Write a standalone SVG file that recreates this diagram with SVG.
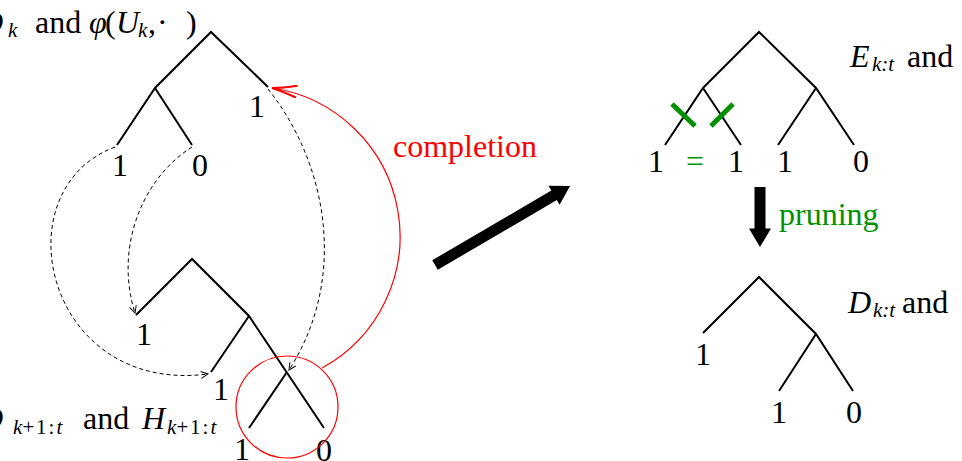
<svg xmlns="http://www.w3.org/2000/svg" width="962" height="461" viewBox="0 0 962 461">
<style>
.t{font-family:"Liberation Serif","Times New Roman",serif;font-size:32px;fill:#000}
.s{font-size:21px}
.i{font-style:italic}
.tree{fill:none;stroke:#000;stroke-width:2}
.dash{fill:none;stroke:#000;stroke-width:1;stroke-dasharray:4 3}
.red{fill:none;stroke:#ff0000;stroke-width:1.2}
.big{stroke:#000;stroke-width:11}
.cross{stroke:#009000;stroke-width:5}
.g{fill:#009000}
.r{fill:#ff0000}
</style>
<defs>
<marker id="chev" markerUnits="userSpaceOnUse" markerWidth="12" markerHeight="12" orient="auto" overflow="visible">
<path d="M-7,-3.5 L0,0 L-7,3.5" fill="none" stroke="#000" stroke-width="1"/>
</marker>
<marker id="redhead" markerUnits="userSpaceOnUse" markerWidth="30" markerHeight="16" orient="auto" overflow="visible">
<path d="M-25,-6 Q-10,-1.5 0,0 Q-10,1.5 -25,6" fill="none" stroke="#ff0000" stroke-width="2.2"/>
</marker>
<marker id="thick" markerUnits="userSpaceOnUse" markerWidth="20" markerHeight="24" orient="auto" overflow="visible">
<path d="M-0.5,-11 L18,0 L-0.5,11 Z" fill="#000"/>
</marker>
</defs>

<g id="tree-Dk">
<polyline class="tree" points="268,87 211,32 155,88 117,145"/>
<line class="tree" x1="155" y1="88" x2="192" y2="145"/>
<text class="t" x="120" y="176" text-anchor="middle">1</text>
<text class="t" x="200" y="176" text-anchor="middle">0</text>
<text class="t" x="257" y="117" text-anchor="middle">1</text>
</g>

<g id="label-Dk">
<text class="t"><tspan class="i" x="-20" y="33">D</tspan><tspan class="s i" x="8" y="37">k</tspan><tspan x="35" y="33">and</tspan><tspan class="i" x="89" y="33">φ</tspan><tspan x="105" y="33">(</tspan><tspan class="i" x="116" y="33">U</tspan><tspan class="s i" x="138" y="37">k</tspan><tspan x="148" y="33">,</tspan><tspan x="157" y="33">·</tspan><tspan x="186" y="33">)</tspan></text>
</g>

<g id="tree-H">
<polyline class="tree" points="136,315 192,259 249,316 324,428"/>
<line class="tree" x1="249" y1="316" x2="211" y2="372"/>
<line class="tree" x1="287" y1="372" x2="249" y2="428"/>
<text class="t" x="144" y="345" text-anchor="middle">1</text>
<text class="t" x="221" y="400" text-anchor="middle">1</text>
<text class="t" x="242" y="460" text-anchor="middle">1</text>
<text class="t" x="324" y="461" text-anchor="middle">0</text>
</g>

<g id="label-H">
<text class="t"><tspan class="i" x="-20" y="429">D</tspan><tspan class="s i" x="13" y="434">k</tspan><tspan class="s" x="22.5" y="434">+</tspan><tspan class="s" x="36" y="434">1</tspan><tspan class="s" x="48.5" y="434">:</tspan><tspan class="s i" x="56.5" y="434">t</tspan><tspan x="83" y="429">and</tspan><tspan class="i" x="142" y="429">H</tspan><tspan class="s i" x="167" y="434">k</tspan><tspan class="s" x="176.5" y="434">+</tspan><tspan class="s" x="190" y="434">1</tspan><tspan class="s" x="202.5" y="434">:</tspan><tspan class="s i" x="210.5" y="434">t</tspan></text>
</g>

<g id="circle-node">
<circle class="red" cx="287" cy="407" r="51"/>
</g>

<g id="tree-E">
<polyline class="tree" points="665,145 703,88 759,32 816,88 854,145"/>
<line class="tree" x1="703" y1="88" x2="741" y2="145"/>
<line class="tree" x1="816" y1="88" x2="778" y2="145"/>
<line class="cross" x1="672" y1="104" x2="695" y2="126"/>
<line class="cross" x1="711" y1="126" x2="733" y2="104"/>
<text class="t" x="656" y="172" text-anchor="middle">1</text>
<text class="t g" x="695" y="172" text-anchor="middle">=</text>
<text class="t" x="736" y="172" text-anchor="middle">1</text>
<text class="t" x="785" y="172" text-anchor="middle">1</text>
<text class="t" x="861" y="172" text-anchor="middle">0</text>
<text class="t"><tspan class="i" x="850" y="67">E</tspan><tspan class="s i" x="872" y="71">k:t</tspan><tspan x="907" y="67">and</tspan></text>
</g>

<g id="tree-Dkt">
<polyline class="tree" points="703,333 759,277 816,334 853,391"/>
<line class="tree" x1="816" y1="334" x2="779" y2="391"/>
<text class="t" x="703" y="365" text-anchor="middle">1</text>
<text class="t" x="779" y="423" text-anchor="middle">1</text>
<text class="t" x="854" y="423" text-anchor="middle">0</text>
<text class="t"><tspan class="i" x="848" y="313">D</tspan><tspan class="s i" x="873" y="317">k:t</tspan><tspan x="902" y="313">and</tspan></text>
</g>

<g id="connectors">
<path class="dash" d="M115,147 C0,190 45,395 208,374" marker-end="url(#chev)"/>
<path class="dash" d="M192,147 C140,180 115,250 135,313" marker-end="url(#chev)"/>
<path class="dash" d="M268,89 C325,160 350,275 289,370" marker-end="url(#chev)"/>
<path class="red" d="M322,368 A150,150 0 0 0 272,88" marker-end="url(#redhead)"/>
<text class="t r" x="393" y="157">completion</text>
<line class="big" x1="435" y1="265" x2="554.5" y2="195.1" marker-end="url(#thick)"/>
<line class="big" x1="760" y1="187" x2="760" y2="229" marker-end="url(#thick)"/>
<text class="t g" x="779" y="225">pruning</text>
</g>
</svg>
